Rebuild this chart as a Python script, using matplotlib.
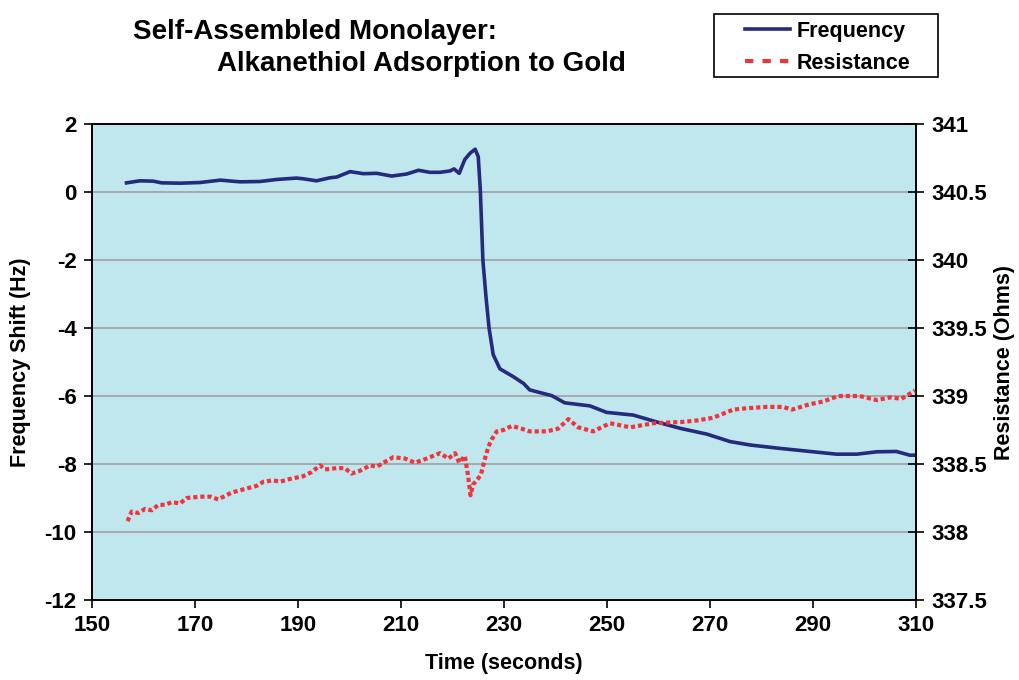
import matplotlib.pyplot as plt
from matplotlib.lines import Line2D
from matplotlib.patches import Rectangle

plt.rcParams['font.family'] = ['Liberation Sans', 'DejaVu Sans']
plt.rcParams['font.weight'] = 'bold'
plt.rcParams['axes.unicode_minus'] = False

# frequency shift (Hz) vs time (s)
freq_t = [156.7, 159.3, 161.9, 163.5, 167.1, 171.0, 174.9, 178.7, 182.6, 185.9,
          189.7, 191.0, 193.6, 196.2, 197.5, 200.1, 202.7, 205.3, 208.2, 211.1,
          213.4, 215.6, 217.6, 219.5, 220.3, 221.3, 222.4, 223.4, 224.4, 225.0,
          225.4, 225.9, 226.5, 227.1, 227.9, 229.2, 231.8, 233.8, 235.0, 239.3,
          241.8, 246.7, 249.9, 255.1, 259.6, 264.2, 269.4, 273.9, 277.8, 283.6,
          288.1, 294.6, 298.5, 302.4, 306.2, 308.8, 309.6]
freq = [0.27, 0.33, 0.32, 0.27, 0.26, 0.28, 0.35, 0.30, 0.31, 0.37,
        0.41, 0.39, 0.33, 0.42, 0.44, 0.60, 0.54, 0.55, 0.47, 0.53,
        0.64, 0.58, 0.58, 0.62, 0.68, 0.55, 0.96, 1.14, 1.26, 1.04,
        0.06, -2.00, -3.08, -4.00, -4.78, -5.20, -5.43, -5.63, -5.82, -5.99,
        -6.20, -6.29, -6.48, -6.56, -6.76, -6.95, -7.12, -7.34, -7.44, -7.54,
        -7.61, -7.71, -7.71, -7.64, -7.63, -7.74, -7.74]

# resistance (Ohms) vs time (s)
res_t = [156.9, 157.7, 159.0, 160.3, 161.6, 162.9, 164.2, 165.5, 167.1, 168.4,
         171.0, 173.0, 174.5, 177.1, 180.0, 182.0, 183.3, 185.2, 186.5, 188.4,
         191.0, 192.6, 194.3, 195.2, 197.5, 199.1, 200.4, 202.0, 204.0, 205.3,
         206.6, 208.5, 210.8, 212.7, 214.3, 215.6, 217.6, 219.2, 220.5, 221.3,
         222.4, 223.0, 223.5, 224.0, 224.7, 225.5, 226.3, 227.0, 227.6, 228.6,
         229.9, 231.5, 233.4, 235.0, 238.3, 240.5, 242.5, 244.4, 247.3, 250.6,
         254.5, 259.0, 264.8, 267.4, 270.6, 274.5, 277.1, 281.0, 284.2, 285.9,
         289.4, 292.0, 294.9, 299.1, 302.4, 305.0, 307.2, 309.8]
res = [338.08, 338.15, 338.14, 338.17, 338.16, 338.20, 338.20, 338.22, 338.21, 338.25,
       338.26, 338.26, 338.24, 338.29, 338.32, 338.34, 338.37, 338.38, 338.37, 338.39,
       338.41, 338.44, 338.49, 338.46, 338.47, 338.47, 338.43, 338.45, 338.49, 338.48,
       338.51, 338.55, 338.54, 338.51, 338.53, 338.55, 338.58, 338.54, 338.58, 338.51,
       338.56, 338.42, 338.27, 338.35, 338.38, 338.42, 338.54, 338.63, 338.68, 338.74,
       338.75, 338.78, 338.76, 338.74, 338.74, 338.76, 338.83, 338.77, 338.74, 338.80,
       338.77, 338.80, 338.81, 338.82, 338.84, 338.90, 338.91, 338.92, 338.92, 338.90,
       338.94, 338.96, 339.00, 339.00, 338.97, 338.99, 338.98, 339.04]

freq_color = '#262A7C'
res_color = '#F0343C'

W, H = 1019, 680
fig = plt.figure(figsize=(W / 100, H / 100), dpi=100)
ax = fig.add_axes([0.0903, 0.1176, 0.8086, 0.7])
ax.set_facecolor('#C0E6EE')
ax.plot(freq_t, freq, color=freq_color, lw=2.6, zorder=3)
ax.set_xlim(150, 310)
ax.set_ylim(-12, 2)
ax.set_xticks(range(150, 311, 20))
ax.set_yticks(range(-12, 3, 2))
ax.grid(axis='y', color='#A0A0A0', lw=1.2)
ax.set_axisbelow(True)
ax.tick_params(labelsize=16, length=6, width=1.2, direction='out', pad=5)
ax.set_xlabel('Time (seconds)', fontsize=15.5, fontweight='bold', labelpad=12)
ax.set_ylabel('Frequency Shift (Hz)', fontsize=15.5, fontweight='bold', labelpad=10)
for s in ax.spines.values():
    s.set_linewidth(1.2)

ax2 = ax.twinx()
ax2.plot(res_t, res, color=res_color, lw=3, ls=(0, (1.0, 0.7)), zorder=3)
ax2.set_ylim(337.5, 341)
ax2.set_yticks([337.5, 338, 338.5, 339, 339.5, 340, 340.5, 341])
ax2.set_yticklabels(['337.5', '338', '338.5', '339', '339.5', '340', '340.5', '341'])
ax2.tick_params(labelsize=16, length=12, width=1.2, direction='inout', pad=5)
ax2.set_ylabel('Resistance (Ohms)', fontsize=15.5, fontweight='bold', labelpad=5)
for s in ax2.spines.values():
    s.set_linewidth(1.2)

fig.text(133 / W, 1 - 32 / H, 'Self-Assembled Monolayer:', fontsize=20,
         fontweight='bold', ha='left', va='center')
fig.text(217 / W, 1 - 64 / H, 'Alkanethiol Adsorption to Gold', fontsize=20,
         fontweight='bold', ha='left', va='center')

# legend box drawn separately so it can be wider than its contents
fig.patches.append(Rectangle((714 / W, 1 - 77 / H), 224 / W, 63 / H,
                             transform=fig.transFigure, facecolor='white',
                             edgecolor='black', lw=1.2))
handles = [Line2D([], [], color=freq_color, lw=2.6),
           Line2D([], [], color=res_color, lw=3, ls=(0, (2.0, 2.2)))]
leg = fig.legend(handles, ['Frequency', 'Resistance'], loc='upper left',
                 bbox_to_anchor=(745 / W, 1 - 21 / H), fontsize=15.5,
                 frameon=False, borderpad=0, borderaxespad=0,
                 handlelength=2.1, handletextpad=0.3, labelspacing=0.5)
for t in leg.get_texts():
    t.set_fontweight('bold')

fig.savefig('out.png', dpi=100)
